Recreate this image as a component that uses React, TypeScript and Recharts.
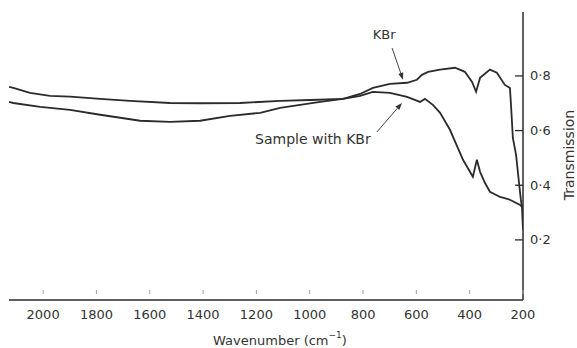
import { LineChart, Line, XAxis, YAxis, ReferenceLine, ReferenceDot, Label } from 'recharts';

// KBr blank (reference) trace
const kbrWave = [2128, 2112, 2049, 1974, 1899, 1786, 1674, 1524, 1411, 1261, 1111, 999, 875, 811, 763, 699, 635, 598, 579, 556, 511, 455, 418, 391, 376, 361, 324, 298, 268, 249, 245, 238, 226, 215, 208, 204];
const kbrT = [0.760, 0.756, 0.738, 0.727, 0.724, 0.716, 0.709, 0.701, 0.700, 0.701, 0.709, 0.712, 0.716, 0.734, 0.756, 0.771, 0.775, 0.786, 0.804, 0.815, 0.823, 0.830, 0.815, 0.778, 0.742, 0.793, 0.823, 0.812, 0.767, 0.756, 0.694, 0.573, 0.511, 0.409, 0.347, 0.321];

// sample dispersed in KBr
const sampleWave = [2128, 2112, 2011, 1899, 1786, 1636, 1524, 1411, 1299, 1186, 1111, 1036, 961, 875, 811, 763, 699, 635, 586, 568, 538, 511, 474, 425, 388, 373, 361, 343, 324, 286, 249, 211, 204, 200];
const sampleT = [0.705, 0.701, 0.687, 0.676, 0.658, 0.636, 0.632, 0.636, 0.654, 0.665, 0.683, 0.694, 0.705, 0.716, 0.727, 0.742, 0.738, 0.723, 0.705, 0.716, 0.694, 0.665, 0.603, 0.493, 0.431, 0.493, 0.449, 0.409, 0.376, 0.357, 0.347, 0.328, 0.321, 0.237];

const xTicks = [2000, 1800, 1600, 1400, 1200, 1000, 800, 600, 400, 200];
const yTicks = [0.2, 0.4, 0.6, 0.8];

const kbrData = kbrWave.map((w, i) => ({ w, t: kbrT[i] }));
const sampleData = sampleWave.map((w, i) => ({ w, t: sampleT[i] }));

const FONT = '"DejaVu Sans", sans-serif';
const INK = '#2b2b2b';

const XTick = (props: any) => {
  const { x, y, payload } = props;
  return (
    <g>
      <line x1={x} x2={x} y1={y - 10} y2={y - 6} stroke="#a0a0a0" />
      <text x={x} y={y + 14} textAnchor="middle" dominantBaseline="central" fontSize={13} fill="#333" fontFamily={FONT}>
        {payload.value}
      </text>
    </g>
  );
};

const YTick = (props: any) => {
  const { x, y, payload } = props;
  return (
    <g>
      <line x1={x - 8} x2={x} y1={y} y2={y} stroke={INK} strokeWidth={1.3} />
      <text x={x + 7} y={y} textAnchor="start" dominantBaseline="central" fontSize={13} fill="#333" fontFamily={FONT}>
        {payload.value.toFixed(1).replace('.', '·')}
      </text>
    </g>
  );
};

const XTitle = (props: any) => {
  const vb = props.viewBox || { x: 9, y: 300 };
  return (
    <text x={vb.x + 271} y={vb.y + 40} textAnchor="middle" dominantBaseline="central" fontSize={13} fill="#333" fontFamily={FONT}>
      Wavenumber (cm<tspan dy={-5} fontSize={9}>−1</tspan><tspan dy={5}>)</tspan>
    </text>
  );
};

const YTitle = (props: any) => {
  const vb = props.viewBox || { x: 523, y: 12, width: 54 };
  const cx = vb.x + vb.width - 3;
  const cy = 155;
  return (
    <text x={cx} y={cy} transform={`rotate(-90 ${cx} ${cy})`} textAnchor="middle" fontSize={14} fill="#333" fontFamily={FONT}>
      Transmission
    </text>
  );
};

const Arrow = (p: any) => {
  const { x1, y1, x2, y2 } = p;
  const a = Math.atan2(y2 - y1, x2 - x1);
  const len = 7;
  const hw = 2.6;
  const bx = x2 - len * Math.cos(a);
  const by = y2 - len * Math.sin(a);
  const pts = `${x2},${y2} ${bx + hw * Math.sin(a)},${by - hw * Math.cos(a)} ${bx - hw * Math.sin(a)},${by + hw * Math.cos(a)}`;
  return (
    <g>
      <line x1={x1} y1={y1} x2={bx} y2={by} stroke="#444" strokeWidth={1} />
      <polygon points={pts} fill="#333" />
    </g>
  );
};

const note = (text: string, size: number) => (p: any) => (
  <text x={p.cx} y={p.cy} textAnchor="middle" dominantBaseline="central" fontSize={size} fill="#333" fontFamily={FONT}>
    {text}
  </text>
);

export default function App() {
  return (
    <div style={{ position: 'absolute', left: 0, top: 0, width: 577, height: 348, background: '#fff' }}>
      <LineChart width={577} height={348} margin={{ top: 12, right: 0, bottom: 0, left: 9 }}>
        <XAxis
          type="number"
          dataKey="w"
          reversed
          domain={[200, 2128]}
          allowDataOverflow
          ticks={xTicks}
          interval={0}
          height={48}
          tickSize={0}
          tickMargin={0}
          tickLine={false}
          tick={<XTick />}
          axisLine={{ stroke: INK, strokeWidth: 1.5 }}
          label={<Label content={XTitle} />}
        />
        <YAxis
          orientation="right"
          type="number"
          domain={[-0.02, 1.034]}
          allowDataOverflow
          ticks={yTicks}
          interval={0}
          width={54}
          tickSize={0}
          tickMargin={0}
          tickLine={false}
          tick={<YTick />}
          axisLine={{ stroke: INK, strokeWidth: 1.5 }}
          label={<Label content={YTitle} />}
        />
        <Line data={kbrData} dataKey="t" type="linear" stroke={INK} strokeWidth={1.8} dot={false} isAnimationActive={false} />
        <Line data={sampleData} dataKey="t" type="linear" stroke={INK} strokeWidth={1.8} dot={false} isAnimationActive={false} />
        <ReferenceLine segment={[{ x: 691, y: 0.902 }, { x: 650, y: 0.786 }]} shape={<Arrow />} />
        <ReferenceLine segment={[{ x: 748, y: 0.595 }, { x: 654, y: 0.701 }]} shape={<Arrow />} />
        <ReferenceDot x={721} y={0.95} r={0} shape={note('KBr', 13)} />
        <ReferenceDot x={988} y={0.57} r={0} shape={note('Sample with KBr', 14)} />
      </LineChart>
    </div>
  );
}
